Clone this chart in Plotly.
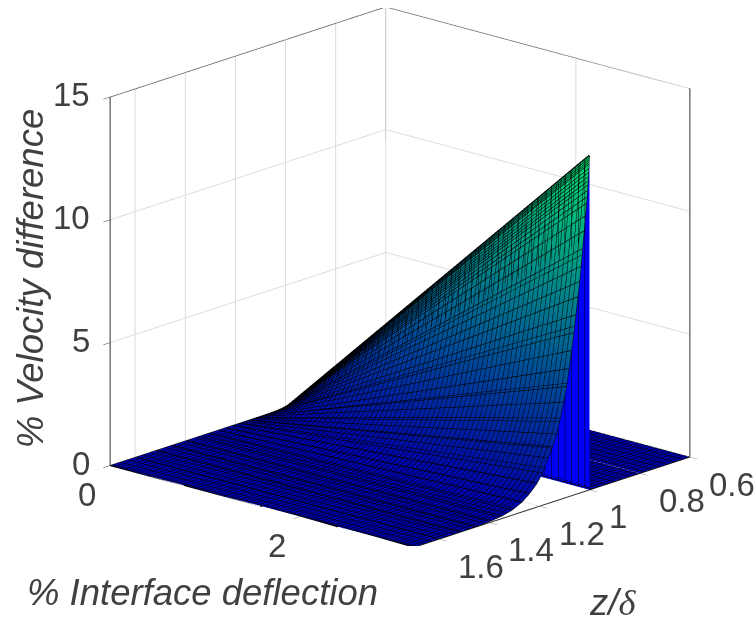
import plotly.graph_objects as go

# --- values ---
deflection = [0.0, 0.8, 1.6, 2.4, 3.2]
z_delta = [1.0, 1.0005, 1.001, 1.0015, 1.002, 1.003, 1.004, 1.005, 1.006, 1.007, 1.0085, 1.01,
           1.012, 1.017, 1.022, 1.028, 1.034, 1.04, 1.047, 1.055, 1.063,
           1.072, 1.082, 1.092, 1.104, 1.117, 1.132, 1.148, 1.166, 1.188, 1.21, 1.24, 1.27,
           1.31, 1.35, 1.40, 1.46, 1.52, 1.6, 1.7]
velocity = [
    [0, 3.40, 6.80, 10.20, 13.60],
    [0, 3.38, 6.76, 10.13, 13.51],
    [0, 3.36, 6.71, 10.07, 13.42],
    [0, 3.33, 6.67, 10.00, 13.33],
    [0, 3.31, 6.63, 9.94, 13.25],
    [0, 3.27, 6.54, 9.81, 13.08],
    [0, 3.23, 6.46, 9.69, 12.92],
    [0, 3.19, 6.38, 9.56, 12.75],
    [0, 3.15, 6.29, 9.44, 12.58],
    [0, 3.11, 6.21, 9.32, 12.42],
    [0, 3.05, 6.10, 9.15, 12.20],
    [0, 2.99, 5.98, 8.96, 11.95],
    [0, 2.93, 5.85, 8.78, 11.70],
    [0, 2.80, 5.60, 8.40, 11.20],
    [0, 2.65, 5.30, 7.95, 10.60],
    [0, 2.48, 4.95, 7.43, 9.90],
    [0, 2.30, 4.60, 6.90, 9.20],
    [0, 2.15, 4.30, 6.45, 8.60],
    [0, 2.00, 4.00, 6.00, 8.00],
    [0, 1.83, 3.65, 5.48, 7.30],
    [0, 1.65, 3.30, 4.95, 6.60],
    [0, 1.48, 2.95, 4.43, 5.90],
    [0, 1.30, 2.60, 3.90, 5.20],
    [0, 1.13, 2.25, 3.38, 4.50],
    [0, 0.98, 1.95, 2.93, 3.90],
    [0, 0.83, 1.65, 2.48, 3.30],
    [0, 0.68, 1.35, 2.03, 2.70],
    [0, 0.56, 1.12, 1.68, 2.24],
    [0, 0.46, 0.92, 1.38, 1.84],
    [0, 0.33, 0.65, 0.98, 1.30],
    [0, 0.24, 0.48, 0.72, 0.96],
    [0, 0.16, 0.32, 0.48, 0.64],
    [0, 0.10, 0.20, 0.30, 0.40],
    [0, 0.05, 0.10, 0.15, 0.20],
    [0, 0.03, 0.05, 0.08, 0.10],
    [0, 0.01, 0.02, 0.03, 0.04],
    [0, 0.00, 0.01, 0.01, 0.02],
    [0, 0.00, 0.00, 0.00, 0.01],
    [0, 0.00, 0.00, 0.00, 0.00],
    [0, 0.00, 0.00, 0.00, 0.00],
]
floor_x = [0.0, 3.2]
floor_y = [0.6, 0.65, 0.7, 0.75, 0.8, 0.85, 0.9, 0.95, 1.0]
floor_v = [[0, 0] for _ in floor_y]

x_ticks = [0, 2]
y_ticks = [0.6, 0.8, 1.0, 1.2, 1.4, 1.6]
y_labels = ["0.6", "0.8", "1", "1.2", "1.4", "1.6"]
z_ticks = [0, 5, 10, 15]
x_title = "<i>% Interface deflection</i>"
y_title = '<i>z/</i><span style="font-family:Liberation Serif"><i>δ</i></span>'
z_title = "<i>% Velocity difference</i>"

X_MAX, Y_MIN, Y_MAX, Z_MAX = 3.2, 0.6, 1.7, 15
winter = [[0, "rgb(0,0,170)"], [1, "rgb(0,225,115)"]]
wall_blue = [[0, "rgb(0,0,245)"], [1, "rgb(0,0,245)"]]
TXT = "#404040"
MESH = dict(show=True, color="black", width=3)
STEP = 0.05

fig = go.Figure()
common = dict(cmin=0, cmax=13.6, showscale=False, hoverinfo="skip",
              lighting=dict(ambient=1, diffuse=0, specular=0, roughness=1, fresnel=0))

# floor on the z/delta < 1 side
fig.add_trace(go.Surface(x=floor_x, y=floor_y, z=floor_v, colorscale=winter,
                         contours=dict(x=dict(start=0, end=3.2, size=STEP, **MESH),
                                       y=dict(start=0.6, end=1.0, size=0.03, **MESH)), **common))
# vertical wall at z/delta = 1
wall_z = [[0 for _ in deflection], velocity[0]]
fig.add_trace(go.Surface(x=deflection, y=[0.9999, 1.0], z=wall_z, colorscale=wall_blue,
                         surfacecolor=[[0 for _ in deflection], [0 for _ in deflection]],
                         contours=dict(x=dict(start=0, end=3.2, size=0.07, **MESH)), **common))
# main sheet
fig.add_trace(go.Surface(x=deflection, y=z_delta, z=velocity, colorscale=winter,
                         contours=dict(x=dict(start=0, end=3.2, size=STEP, **MESH),
                                       y=dict(start=1.0, end=1.7, size=0.03, **MESH)), **common))

# constant z/delta mesh lines, taken from the table rows
lx, ly, lz = [], [], []
for yv, row in zip(z_delta, velocity):
    lx += deflection + [None]
    ly += [yv] * len(deflection) + [None]
    lz += row + [None]
fig.add_trace(go.Scatter3d(x=lx, y=ly, z=lz, mode="lines", line=dict(color="black", width=2.5),
                           hoverinfo="skip", showlegend=False))
# heavy black ridge where the mesh lines pile up
fig.add_trace(go.Scatter3d(x=deflection, y=[z_delta[0]] * len(deflection), z=velocity[0], mode="lines",
                           line=dict(color="black", width=5), hoverinfo="skip", showlegend=False))

# box frame
fig.add_trace(go.Scatter3d(
    x=[0, 0, None, 0, 0, None, X_MAX, X_MAX, None, 0, 0, X_MAX, None, 0, X_MAX, X_MAX],
    y=[Y_MAX, Y_MAX, None, Y_MIN, Y_MIN, None, Y_MIN, Y_MIN, None, Y_MAX, Y_MIN, Y_MIN, None, Y_MAX, Y_MAX, Y_MIN],
    z=[0, Z_MAX, None, 0, Z_MAX, None, 0, Z_MAX, None, Z_MAX, Z_MAX, Z_MAX, None, 0, 0, 0],
    mode="lines", line=dict(color="#303030", width=2), hoverinfo="skip", showlegend=False))

F = dict(family="Liberation Sans, Arial, sans-serif", size=33, color=TXT)
FT = dict(family="Liberation Sans, Arial, sans-serif", size=36.5, color=TXT)
ann = []
for v in x_ticks:
    ann.append(dict(x=v, y=Y_MAX, z=0, text=str(v), showarrow=False, font=F, xshift=-23, yshift=-29))
for v, s in zip(y_ticks, y_labels):
    ann.append(dict(x=X_MAX, y=v, z=0, text=s, showarrow=False, font=F, xanchor="left", xshift=17, yshift=-27))
for v in z_ticks:
    ann.append(dict(x=0, y=Y_MAX, z=v, text=str(v), showarrow=False, font=F, xanchor="right", xshift=-18, yshift=2))
ann.append(dict(x=X_MAX * 0.62, y=Y_MAX, z=0, text=x_title, showarrow=False, font=FT, xshift=-96, yshift=-76))
ann.append(dict(x=X_MAX, y=1.15, z=0, text=y_title, showarrow=False, font=FT, xshift=60, yshift=-100))
ann.append(dict(x=0, y=Y_MAX, z=7.5, text=z_title, showarrow=False, font=FT, textangle=-90, xshift=-80, yshift=2))


def axis(rng, ticks):
    return dict(range=rng, tickvals=ticks, showticklabels=False, title=dict(text=""), showgrid=True,
                gridcolor="#dcdcdc", gridwidth=2, zeroline=False, showbackground=False,
                showline=False, ticks="outside", ticklen=10, tickcolor="#404040", showspikes=False)


k = 1.526
fig.update_layout(
    width=754, height=618, paper_bgcolor="white", margin=dict(l=0, r=0, t=0, b=0), showlegend=False,
    scene=dict(
        domain=dict(x=[0.061, 1.0], y=[0.1165, 0.98706]),
        xaxis=axis([0, X_MAX], x_ticks), yaxis=axis([Y_MAX, Y_MIN], y_ticks), zaxis=axis([0, Z_MAX], z_ticks),
        aspectmode="manual", aspectratio=dict(x=k, y=k, z=0.94 * k),
        camera=dict(projection=dict(type="orthographic"), up=dict(x=0, y=0, z=1),
                    center=dict(x=0, y=0, z=0),
                    eye=dict(x=0.6415 * 1.9, y=-0.7076 * 1.9, z=0.2966 * 1.9)),
        annotations=ann,
    ),
)
fig.write_html("out.html", config=dict(displayModeBar=False),
               post_script="document.body.style.margin='0';document.body.style.overflow='hidden';")
